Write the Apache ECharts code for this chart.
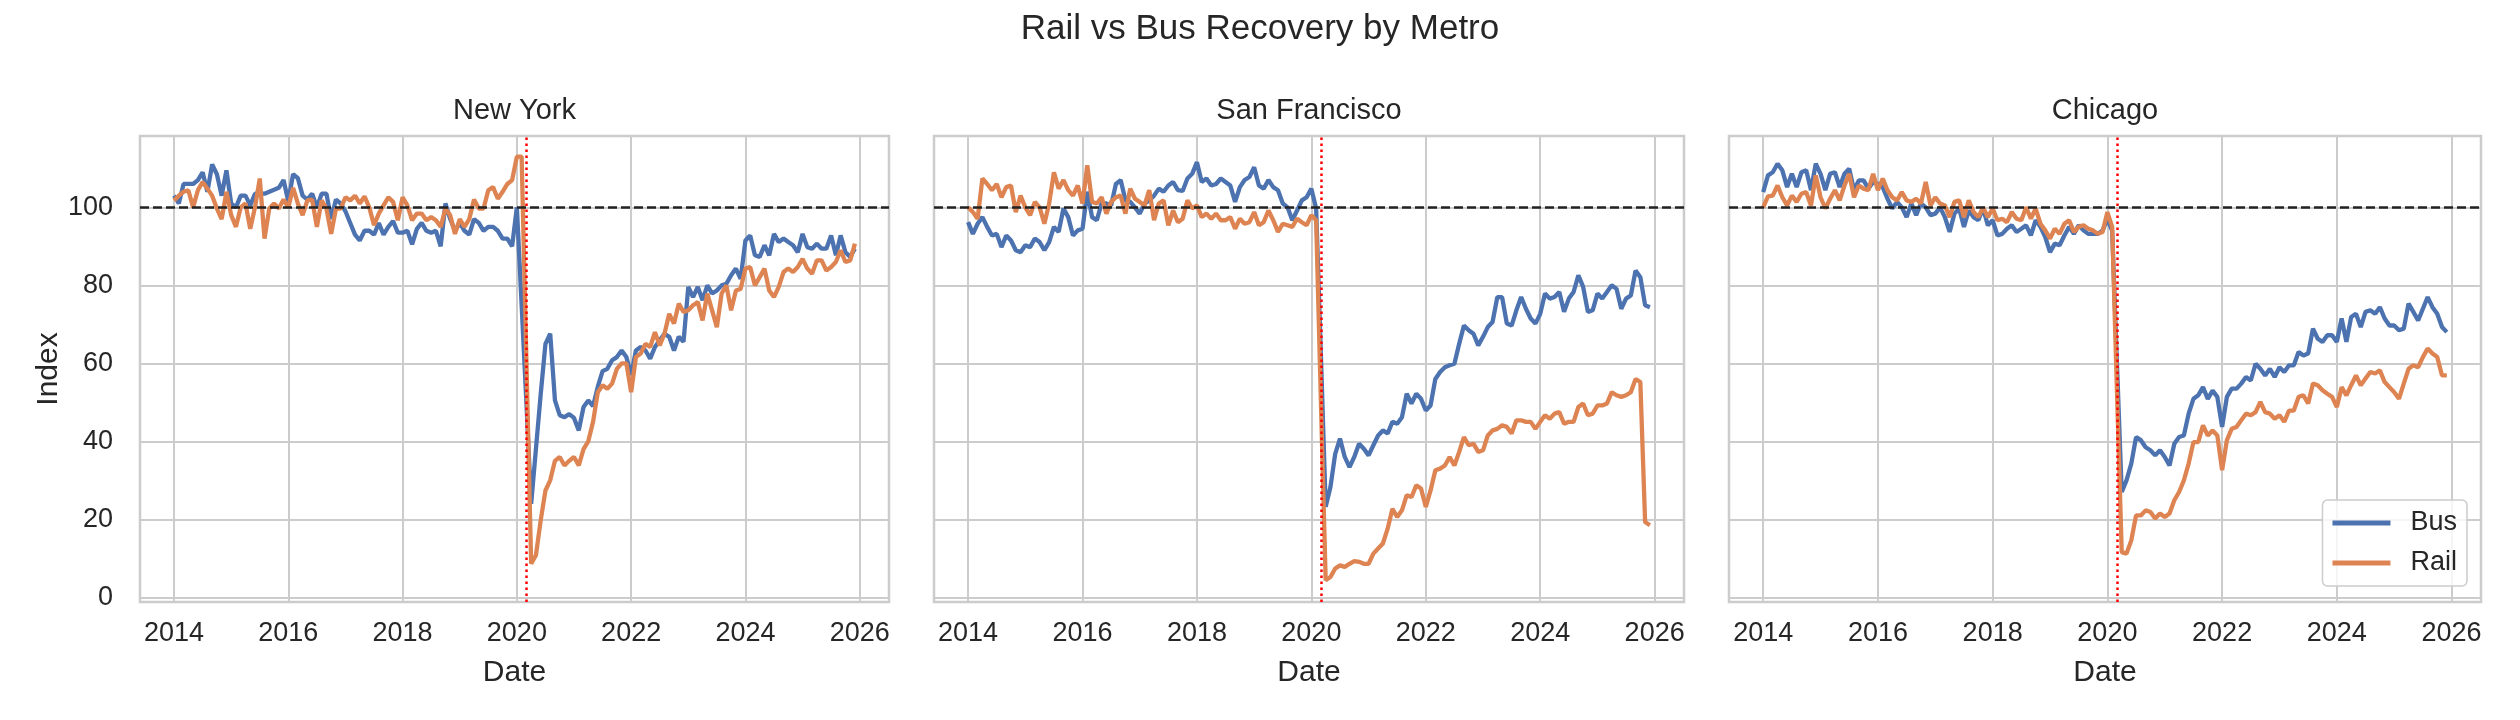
<!DOCTYPE html>
<html>
<head>
<meta charset="utf-8">
<title>Rail vs Bus Recovery by Metro</title>
<script src="https://cdn.jsdelivr.net/npm/echarts@6/dist/echarts.min.js"></script>
<style>
    html, body { margin: 0; padding: 0; background: #ffffff; }
    #chart { width: 2520px; height: 720px; }
</style>
</head>
<body>
<div id="chart"></div>
<script>
// panel names and axis ticks
const metros = ['New York', 'San Francisco', 'Chicago'];
const yTicks = [0, 20, 40, 60, 80, 100];
const xTicks = [2014, 2016, 2018, 2020, 2022, 2024, 2026];
const covidDate = '2020-03';
const baseline = 100;

// monthly index values, Jan 2014 .. Dec 2025 (one row per year)
const nyBus = [
    103, 101, 106, 106, 106, 107, 109, 104, 111, 108.5, 103, 109.5,
    101, 100, 103, 103, 100.5, 103.5, 103.5, 103.5, 104, 104.5, 105, 107,
    101.5, 108.5, 107.5, 103, 102, 103.5, 100, 103.5, 103.5, 97, 102, 101,
    99, 96, 93, 91.5, 94, 94, 93, 96, 93, 95, 96.5, 93.5,
    93.5, 94, 90.5, 94.5, 96, 94, 93.5, 94, 90, 101, 97, 94,
    96, 94, 93, 97, 96, 94, 95, 95, 94, 92, 92, 90,
    100, 75, 50, 24, 38, 52, 65, 67.6, 50.5, 46.7, 46.2, 47,
    46, 42.8, 48.8, 50.5, 49, 54, 58, 58.6, 60.8, 61.6, 63.3, 61.6,
    57, 63.3, 64.2, 63.3, 61.2, 64.2, 65.9, 67.6, 66.8, 63.3, 66.8, 65.5,
    79.6, 77, 79.6, 76.2, 80, 77.9, 78.7, 80, 80.4, 82.6, 84.3, 81.7,
    91.5, 92.8, 87.7, 87.3, 90.3, 87.7, 93.2, 91.1, 92, 91.1, 90.3, 88.5,
    93.2, 89.8, 89.4, 90.7, 89.4, 89.4, 92.8, 87.7, 92.8, 88.5, 87.3, 89.4
];
const nyRail = [
    101.8, 103, 104, 104.4, 100, 104.4, 106.5, 104.8, 103, 99.7, 97, 104,
    98, 95, 100, 101, 94.5, 100, 107.4, 92, 99.7, 101, 99.7, 102,
    100, 105, 101, 98, 101.8, 102, 95, 101.8, 99.7, 93.2, 99.7, 99.7,
    102.6, 101.8, 103, 101, 102.8, 100, 95.4, 98.4, 100.5, 102.6, 101.4, 96.7,
    102.6, 100.5, 96.7, 98.4, 98.4, 96.7, 97.5, 96.7, 95, 99.7, 98, 93.2,
    97, 95, 97, 102, 99.7, 99.7, 104.4, 105.2, 102.2, 104, 106, 107,
    113, 113, 61, 8.6, 10.8, 19.7, 27.4, 30, 35, 36, 33.8, 35,
    36, 33.8, 38, 40, 45, 52.6, 54.4, 53.5, 54.8, 58.6, 60, 60,
    52.6, 61.6, 62.5, 65, 64.2, 68, 64.6, 67.6, 72.7, 70.2, 75.3, 73.2,
    73.6, 74.9, 75.7, 71, 77.9, 73.6, 69.3, 77.9, 80, 73.6, 78.7, 79.1,
    84.3, 84.7, 80, 82.1, 84.3, 78.7, 77, 79.6, 83.4, 84.3, 83.4, 84.7,
    86.8, 84.3, 83, 86.4, 86.4, 83.8, 84.7, 86, 89, 86, 86.4, 90.7
];
const sfBus = [
    96.2, 93.2, 95.8, 97.5, 95, 92.8, 93.2, 89.8, 92.8, 91.5, 89, 88.5,
    90.3, 89.8, 92, 91.1, 89, 91.1, 95, 93.7, 99.7, 97.5, 92.8, 94.1,
    94.5, 104, 97.5, 96.7, 101, 101, 100.5, 106, 107, 101.8, 101.4, 100,
    98.4, 101, 101.8, 103, 104.8, 104, 105.6, 106.5, 104.4, 104.2, 107.4, 108.6,
    111.6, 106.5, 107.4, 105.6, 106, 107.4, 106.5, 105.6, 101.4, 105.2, 107, 107.8,
    110.3, 105.6, 104.8, 107, 105.2, 104.4, 101, 100, 96.7, 99.2, 101.8, 102.6,
    104.8, 99.7, 62, 23.2, 28.3, 36.8, 40.7, 36, 33.4, 36, 39.4, 38.1,
    36.4, 39, 41.5, 42.8, 42, 45, 44.5, 46.2, 52.2, 49.7, 52.2, 50.9,
    47.9, 49.2, 56, 57.8, 59, 59.5, 59.9, 65, 69.7, 68.5, 67.6, 64.6,
    66.8, 69.3, 70.6, 77, 77, 70.2, 69.7, 73.6, 77, 74, 71.5, 70.2,
    72.7, 77.9, 76.6, 77, 78.3, 73.2, 76.6, 78.3, 82.6, 79.6, 73.2, 73.6,
    77.9, 76.6, 78.3, 80, 79.1, 74, 76.6, 77.4, 83.8, 82.1, 74.9, 74.4
];
const sfRail = [
    100, 98.8, 97.1, 107.4, 106, 104.4, 106, 102.6, 105.2, 105.6, 98.8, 103,
    100, 98, 101.4, 100, 95.8, 101, 109, 104.8, 107, 104.4, 103, 105.6,
    101, 110.8, 101.4, 101, 102.6, 98.4, 101.4, 102.6, 103, 98.4, 104.8, 102.2,
    101.4, 100.5, 104.4, 96.7, 101, 101.8, 95.4, 99.2, 96.2, 97.1, 101.8, 99.7,
    100.5, 97.5, 98.4, 97.1, 98.4, 96.7, 96.7, 97.5, 94.5, 97.1, 95.8, 96.2,
    98.8, 95.4, 96.2, 99.2, 96.7, 93.7, 95.8, 95.4, 95, 97.1, 96.2, 95.4,
    98, 96.7, 50, 4.4, 5.2, 7.4, 8.2, 7.8, 8.6, 9.3, 9.1, 8.6,
    8.6, 11.2, 12.5, 13.8, 17.6, 22.7, 20.6, 22.3, 26.2, 25.7, 28.7, 27.9,
    23.2, 27.4, 32.6, 33, 33.8, 36, 33.8, 37.3, 41.1, 39, 39.4, 37.3,
    37.7, 41.5, 42.8, 43.2, 44.1, 43.7, 42, 45.4, 45.4, 45, 45, 43.2,
    45, 46.7, 45.8, 47.1, 47.5, 44.5, 45, 45, 48.8, 49.7, 46.7, 47.1,
    49.2, 49.2, 49.7, 52.6, 51.8, 51.4, 51.8, 52.6, 56, 55.2, 19.3, 18.5
];
const chiBus = [
    103.9, 108.2, 109, 111.2, 109.5, 105.2, 108.6, 105.2, 109, 109.5, 104.4, 111.2,
    108.6, 104.4, 108.6, 109, 105.2, 108.6, 109.9, 104.4, 106.9, 106.9, 104.8, 106.5,
    106, 105.2, 102.2, 99.7, 101.4, 100, 97.5, 101, 98, 101, 100, 98,
    98.4, 100, 97.5, 93.7, 98.4, 99.7, 95, 99.2, 97.5, 96.7, 99.7, 95.4,
    96.7, 92.8, 93.2, 94.5, 95.4, 93.7, 94.5, 95.4, 92.8, 96.7, 95, 92.4,
    88.5, 90.7, 90.3, 92.8, 95, 93.2, 95.4, 94.1, 93.2, 93.2, 93.2, 94.1,
    97, 94, 60, 27, 30, 34.3, 41.1, 40.3, 38.5, 37.7, 36.4, 37.7,
    36, 33.8, 39.4, 41.1, 41.5, 47.1, 50.9, 51.8, 53.9, 50.9, 53, 51.4,
    43.7, 51.4, 53.5, 53.5, 54.8, 56.5, 55.6, 59.9, 58.6, 56.9, 58.6, 56.5,
    59, 57.8, 59.5, 59.5, 62.9, 62, 62.5, 68.9, 66.3, 65.5, 67.2, 67.2,
    65.5, 71.5, 65.5, 71.9, 72.7, 69.3, 73.2, 73.6, 72.7, 74.4, 71.5, 69.7,
    69.7, 68.5, 68.9, 75.3, 73.2, 71, 74, 77, 74.4, 72.7, 69.3, 68
];
const chiRail = [
    100, 102.8, 103, 105.6, 102.6, 100.5, 103, 101.4, 103.5, 103.9, 100.5, 108.2,
    102.6, 99.7, 102.2, 104.4, 101.8, 105.6, 108.6, 102.6, 105.6, 104.8, 104.4, 108.6,
    104.4, 107.4, 104.4, 102.6, 101.8, 103.9, 101.8, 101.4, 102.2, 101, 106.5, 100.5,
    102.6, 101, 100.5, 97.5, 101.4, 101.8, 97.5, 101.8, 98.8, 97.5, 100, 97.5,
    99.7, 96.7, 97.1, 96.2, 98.8, 97.1, 96.7, 100, 97.1, 99.7, 95.8, 94.1,
    92, 94.5, 93.2, 95.8, 96.7, 93.7, 95, 95.4, 94.5, 94.1, 93.2, 93.7,
    98.8, 95, 53, 11.6, 11.2, 14.6, 21, 21, 22.3, 21.9, 20.2, 21.5,
    20.6, 21.5, 24.9, 27, 30, 34.3, 39.8, 39.8, 44.1, 41.5, 42.8, 41.5,
    32.6, 40.3, 43.2, 43.7, 45.4, 47.1, 46.7, 47.5, 50.1, 47.5, 47.1, 45.8,
    46.7, 45, 47.9, 47.9, 51.4, 51.8, 49.7, 54.8, 54.4, 53.1, 52.2, 51.4,
    48.8, 53.9, 51.8, 54.4, 56.9, 54.4, 56.1, 57.8, 57.4, 58.2, 55.2, 53.9,
    52.6, 50.9, 54.8, 58.6, 59.5, 59, 61.6, 63.8, 62.5, 61.6, 56.9, 56.9
];

const busSeries = [nyBus, sfBus, chiBus];
const railSeries = [nyRail, sfRail, chiRail];

const BUS_COLOR = '#4C72B0';
const RAIL_COLOR = '#DD8452';
const TEXT_COLOR = '#262626';
const GRID_COLOR = '#cccccc';
const FONT = '"Liberation Sans", Arial, sans-serif';
const LINE_WIDTH = 4.3;

// month labels Jan 2014 .. Dec 2025
function buildDates() {
    const out = [];
    for (let y = 2014; y <= 2025; y++) {
        for (let m = 1; m <= 12; m++) {
            out.push(y + '-' + String(m).padStart(2, '0'));
        }
    }
    return out;
}

// 'YYYY-MM' -> fractional year for the value axis
function toYear(d) {
    const parts = d.split('-');
    return Number(parts[0]) + (Number(parts[1]) - 1) / 12;
}

function toPairs(dates, values) {
    return values.map((v, i) => [toYear(dates[i]), v]);
}

function initChart() {
    const chart = echarts.init(document.getElementById('chart'));
    const dates = buildDates();

    const gridLeft = [140, 934, 1729];
    const gridWidth = [749, 750, 752];
    const gridTop = 136;
    const gridHeight = 466;

    const grids = [];
    const xAxes = [];
    const yAxes = [];
    const series = [];
    const graphics = [{
        type: 'text',
        x: 1260,
        y: 29,
        style: {
            text: 'Rail vs Bus Recovery by Metro',
            fontSize: 35,
            fontFamily: FONT,
            fill: TEXT_COLOR,
            align: 'center',
            verticalAlign: 'middle'
        }
    }];

    metros.forEach((name, i) => {
        grids.push({
            left: gridLeft[i],
            top: gridTop,
            width: gridWidth[i],
            height: gridHeight,
            show: true,
            borderColor: GRID_COLOR,
            borderWidth: 2.5,
            backgroundColor: 'transparent'
        });

        graphics.push({
            type: 'text',
            x: gridLeft[i] + gridWidth[i] / 2,
            y: 111,
            style: {
                text: name,
                fontSize: 29,
                fontFamily: FONT,
                fill: TEXT_COLOR,
                align: 'center',
                verticalAlign: 'middle'
            }
        });

        xAxes.push({
            type: 'value',
            gridIndex: i,
            min: 2013.404,
            max: 2026.513,
            name: 'Date',
            nameLocation: 'middle',
            nameGap: 56,
            nameTextStyle: { fontSize: 30, color: TEXT_COLOR, fontFamily: FONT },
            axisLine: { show: false },
            axisTick: { show: false, customValues: xTicks },
            axisLabel: {
                customValues: xTicks,
                fontSize: 27,
                color: TEXT_COLOR,
                fontFamily: FONT,
                margin: 18,
                formatter: (v) => String(Math.round(v))
            },
            splitLine: { show: true, lineStyle: { color: GRID_COLOR, width: 2 } }
        });

        yAxes.push({
            type: 'value',
            gridIndex: i,
            min: -1.2,
            max: 118.3,
            name: i === 0 ? 'Index' : '',
            nameLocation: 'middle',
            nameGap: 76,
            nameTextStyle: { fontSize: 30, color: TEXT_COLOR, fontFamily: FONT },
            axisLine: { show: false },
            axisTick: { show: false, customValues: yTicks },
            axisLabel: {
                show: i === 0,
                customValues: yTicks,
                fontSize: 27,
                color: TEXT_COLOR,
                fontFamily: FONT,
                margin: 27
            },
            splitLine: { show: true, lineStyle: { color: GRID_COLOR, width: 2 } }
        });

        series.push({
            name: 'Bus',
            type: 'line',
            xAxisIndex: i,
            yAxisIndex: i,
            data: toPairs(dates, busSeries[i]),
            symbol: 'none',
            lineStyle: { width: LINE_WIDTH, color: BUS_COLOR },
            itemStyle: { color: BUS_COLOR },
            emphasis: { disabled: true },
            z: 2
        });
        series.push({
            name: 'Rail',
            type: 'line',
            xAxisIndex: i,
            yAxisIndex: i,
            data: toPairs(dates, railSeries[i]),
            symbol: 'none',
            lineStyle: { width: LINE_WIDTH, color: RAIL_COLOR },
            itemStyle: { color: RAIL_COLOR },
            emphasis: { disabled: true },
            z: 2
        });

        // reference lines: pre-pandemic baseline and March 2020
        series.push({
            name: 'ref' + i,
            type: 'line',
            xAxisIndex: i,
            yAxisIndex: i,
            data: [],
            silent: true,
            z: 4,
            markLine: {
                silent: true,
                symbol: 'none',
                animation: false,
                label: { show: false },
                emphasis: { disabled: true },
                data: [
                    { yAxis: baseline, lineStyle: { color: '#222222', width: 2.5, type: [9, 4] } },
                    { xAxis: toYear(covidDate), lineStyle: { color: '#ff0000', width: 2.5, type: [2.5, 3.5] } }
                ]
            }
        });
    });

    const option = {
        animation: false,
        backgroundColor: '#ffffff',
        textStyle: { fontFamily: FONT },
        graphic: graphics,
        legend: {
            data: ['Bus', 'Rail'],
            orient: 'vertical',
            right: 53,
            top: 500,
            padding: [8, 10, 8, 10],
            icon: 'rect',
            itemWidth: 58,
            itemHeight: 5,
            itemGap: 10,
            backgroundColor: 'rgba(255, 255, 255, 0.8)',
            borderColor: GRID_COLOR,
            borderWidth: 1.5,
            borderRadius: 5,
            textStyle: {
                fontSize: 27,
                color: TEXT_COLOR,
                fontFamily: FONT,
                lineHeight: 30,
                padding: [0, 0, 0, 15]
            }
        },
        grid: grids,
        xAxis: xAxes,
        yAxis: yAxes,
        series: series
    };
    chart.setOption(option);
    window.addEventListener('resize', () => chart.resize());
}

document.addEventListener('DOMContentLoaded', initChart);
</script>
</body>
</html>
